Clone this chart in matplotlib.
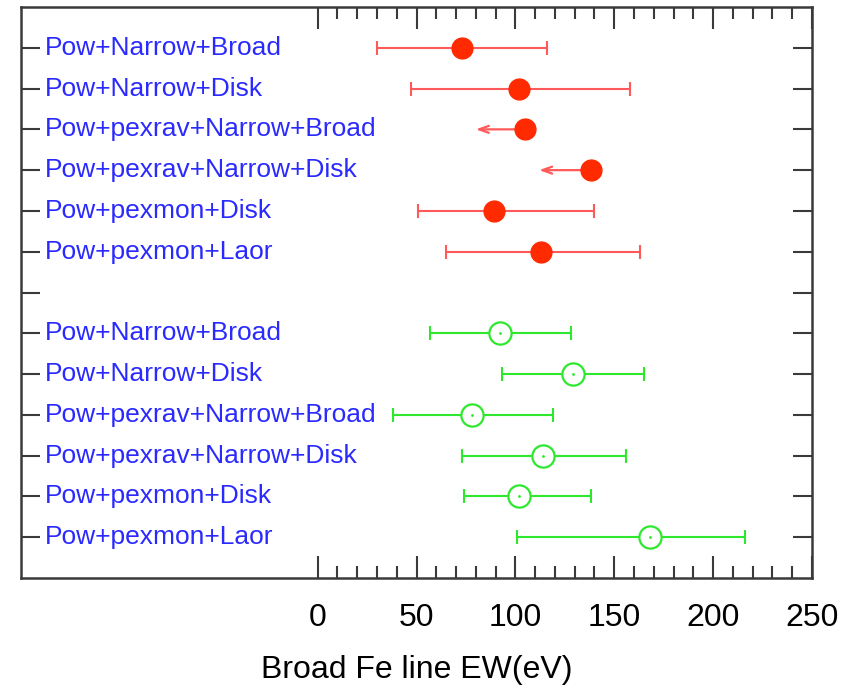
import matplotlib
matplotlib.use("Agg")
import matplotlib.pyplot as plt
import numpy as np

plt.rcParams['font.family'] = ['Liberation Sans', 'DejaVu Sans']

# Model labels, top to bottom
red_labels = ["Pow+Narrow+Broad", "Pow+Narrow+Disk", "Pow+pexrav+Narrow+Broad",
              "Pow+pexrav+Narrow+Disk", "Pow+pexmon+Disk", "Pow+pexmon+Laor"]
green_labels = ["Pow+Narrow+Broad", "Pow+Narrow+Disk", "Pow+pexrav+Narrow+Broad",
                "Pow+pexrav+Narrow+Disk", "Pow+pexmon+Disk", "Pow+pexmon+Laor"]

# Broad Fe line EW (eV): best fit with lower / upper bounds
red_ew = [73, 102, 105, 138, 89, 113]
red_lo = [30, 47, 80, 112, 51, 65]
red_hi = [116, 158, None, None, 140, 163]   # None -> upper limit only (arrow)

green_ew = [92, 129, 78, 114, 102, 168]
green_lo = [57, 93, 38, 73, 74, 101]
green_hi = [128, 165, 119, 156, 138, 216]

red_pos = [1, 2, 3, 4, 5, 6]
green_pos = [8, 9, 10, 11, 12, 13]

RED = "#ff2a00"
RED_LINE = "#ff5a5a"
GREEN = "#2ee82e"
BLUE = "#2a2aff"
FRAME = "#3a3a3a"

fig = plt.figure(figsize=(8.61, 6.88), dpi=100)
ax = fig.add_axes([21/861, 1-578/688, (812-21)/861, (578-7)/688])

# Red: filled markers, error bars or upper-limit arrows
for y, v, lo, hi in zip(red_pos, red_ew, red_lo, red_hi):
    if hi is not None:
        ax.errorbar([v], [y], xerr=[[v - lo], [hi - v]], fmt='none',
                    ecolor=RED_LINE, elinewidth=1.5, capsize=5, capthick=1.5, zorder=2)
    else:
        ax.annotate("", xy=(lo, y), xytext=(v, y),
                    arrowprops=dict(arrowstyle="->,head_length=0.7,head_width=0.25",
                                    color=RED_LINE, lw=1.6, shrinkA=0, shrinkB=0),
                    zorder=2)
ax.plot(red_ew, red_pos, 'o', color=RED, markersize=15, zorder=3)

# Green: open markers with error bars
ax.errorbar(green_ew, green_pos,
            xerr=[np.subtract(green_ew, green_lo), np.subtract(green_hi, green_ew)],
            fmt='none', ecolor=GREEN, elinewidth=1.5, capsize=5, capthick=1.5, zorder=2)
ax.plot(green_ew, green_pos, 'o', markerfacecolor='white', markeredgecolor=GREEN,
        markeredgewidth=1.6, markersize=16, zorder=3)
ax.plot(green_ew, green_pos, '.', color=GREEN, markersize=2, zorder=4)

# Row labels
for y, lab in zip(red_pos + green_pos, red_labels + green_labels):
    ax.text(-138, y, lab, color=BLUE, fontsize=19, ha='left', va='center')

ax.set_xlim(-150, 250)
ax.set_ylim(14, 0)

ax.set_xticks(np.arange(0, 251, 50))
ax.set_xticks(np.arange(0, 251, 10), minor=True)
ax.set_yticks(np.arange(1, 14))
ax.set_yticklabels([])

ax.tick_params(axis='x', which='major', direction='in', top=True, bottom=True,
               length=16, width=1.5, color=FRAME, labelsize=23, pad=18)
ax.tick_params(axis='x', which='minor', direction='in', top=True, bottom=True,
               length=8.5, width=1.5, color=FRAME)
ax.tick_params(axis='y', which='major', direction='in', left=True, right=True,
               length=14, width=1.5, color=FRAME)

for s in ax.spines.values():
    s.set_color(FRAME)
    s.set_linewidth(1.8)

ax.set_xlabel("Broad Fe line EW(eV)", fontsize=23, labelpad=16)

fig.savefig("out.png", dpi=100)
